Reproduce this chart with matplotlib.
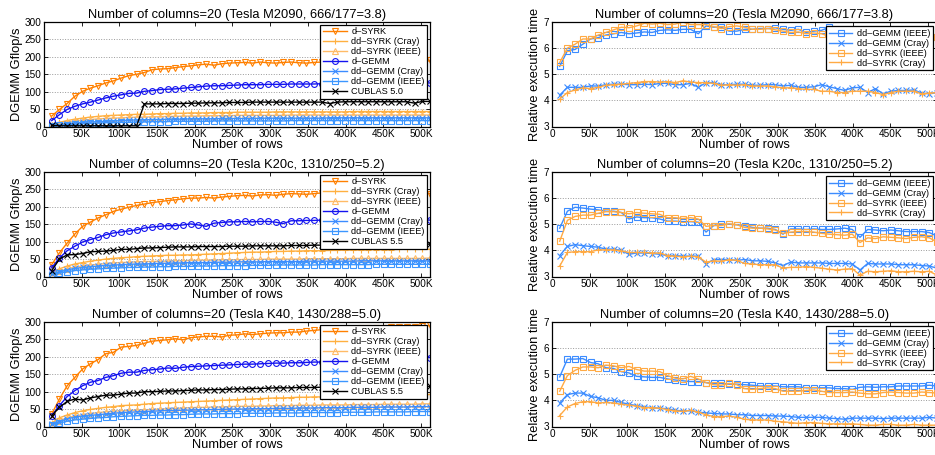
import matplotlib
matplotlib.use('Agg')
import matplotlib.pyplot as plt

plt.rcParams['font.family'] = ['Liberation Sans', 'DejaVu Sans']

# numero de filas (10K ... 512K)
rows = [10240 * k for k in range(1, 51)]
xticks = [0, 50000, 100000, 150000, 200000, 250000, 300000, 350000, 400000, 450000, 500000]
xticklabels = ['0', '50K', '100K', '150K', '200K', '250K', '300K', '350K', '400K', '450K', '500K']

titles = ['Number of columns=20 (Tesla M2090, 666/177=3.8)',
          'Number of columns=20 (Tesla K20c, 1310/250=5.2)',
          'Number of columns=20 (Tesla K40, 1430/288=5.0)']
cublas_names = ['CUBLAS 5.0', 'CUBLAS 5.5', 'CUBLAS 5.5']

# ---- Gflop/s, Tesla M2090
d_syrk_m = [30,49,66,87,101,110,117,125,131,139,146,150,155,163,165,166,169,172,174,177,
            179,176,180,182,183,184,182,185,183,182,184,185,183,182,184,185,183,181,184,183,
            185,184,183,185,184,183,185,184,182,190]
dd_syrk_cray_m = [5,12,17,21,24,27,29,31,32,33,34,35,35,36,37,37,38,38,39,39,
                  39,40,40,40,41,41,41,41,41,42,42,42,42,42,42,42,42,42,42,43,
                  43,43,43,43,43,43,43,43,43,43]
dd_syrk_ieee_m = [3,8,12,15,18,20,22,23,24,25,26,27,27,28,28,29,29,30,30,30,
                  31,31,31,31,32,32,32,32,32,32,32,33,33,33,33,33,33,33,33,33,
                  33,33,33,33,33,33,33,33,33,33]
d_gemm_m = [17,34,49,58,65,70,76,82,87,91,95,96,101,103,106,107,108,110,112,114,
            116,117,117,118,119,120,120,120,121,121,121,122,122,122,122,123,122,123,124,124,
            124,125,124,125,125,125,124,125,125,125]
dd_gemm_cray_m = [2,5,8,10,12,13,14,15,16,17,18,19,19,20,20,21,21,21,22,22,
                  22,22,23,23,23,23,23,24,24,24,24,24,24,24,24,24,25,25,25,25,
                  25,25,25,25,25,25,25,25,25,25]
dd_gemm_ieee_m = [1,3,5,7,8,9,10,11,11,12,12,13,13,14,14,14,15,15,15,15,
                  15,16,16,16,16,16,16,16,16,16,16,17,17,17,17,17,17,17,17,17,
                  17,17,17,17,17,17,17,17,17,17]
cublas_m = [3,2,2,2,2,2,2,2,2,2,2,2,65,65,65,66,66,66,67,67,
            68,68,68,69,69,69,70,70,70,70,70,70,70,70,70,70,66,70,71,71,
            71,71,71,71,71,71,71,67,72,72]

# ---- Gflop/s, Tesla K20c
d_syrk_k20 = [34,68,96,122,144,156,168,177,187,193,199,204,208,212,215,218,220,223,225,225,
              227,225,228,230,232,233,231,234,235,233,236,238,237,236,238,240,238,237,239,238,
              239,240,238,239,240,239,238,239,240,238]
dd_syrk_cray_k20 = [10,22,30,36,40,44,47,50,52,54,55,57,58,59,60,61,61,62,62,63,
                    64,65,66,67,68,69,70,70,71,72,72,73,73,74,74,74,75,75,76,76,
                    76,77,77,77,77,78,78,78,78,78]
dd_syrk_ieee_k20 = [7,15,22,27,30,33,35,37,39,40,41,42,43,43,44,44,45,45,46,47,
                    47,47,48,48,48,49,49,49,50,50,50,50,50,51,51,51,51,51,51,52,
                    52,52,52,52,52,52,52,52,52,53]
d_gemm_k20 = [25,53,74,87,99,106,112,120,125,128,131,134,139,142,144,146,146,148,151,148,
              144,153,155,157,157,158,157,158,158,156,152,160,160,161,161,162,161,162,162,161,
              162,162,163,162,163,162,163,162,162,162]
dd_gemm_cray_k20 = [6,13,19,23,26,28,30,32,33,34,35,36,36,37,38,38,39,39,40,40,
                    40,41,41,41,42,42,42,42,43,43,43,43,43,44,44,44,44,44,44,44,
                    45,45,45,45,45,45,45,45,45,45]
dd_gemm_ieee_k20 = [5,10,14,17,19,21,22,23,24,25,26,26,27,27,28,28,29,29,29,30,
                    30,30,31,31,31,31,32,32,32,33,33,33,33,33,33,34,34,34,34,34,
                    34,34,35,35,35,35,35,35,35,35]
cublas_k20 = [17,50,62,63,66,71,72,73,75,78,78,80,82,82,83,84,85,85,85,86,
              86,86,86,87,87,87,88,88,88,88,88,89,89,89,90,90,90,90,90,90,
              91,91,91,91,91,92,92,92,92,93]

# ---- Gflop/s, Tesla K40
d_syrk_k40 = [36,79,117,141,165,180,192,209,213,228,230,233,239,245,247,249,252,249,255,257,
              259,259,257,262,263,266,264,266,268,269,269,271,271,274,276,278,278,279,280,281,
              282,283,283,284,285,286,286,287,288,290]
dd_syrk_cray_k40 = [10,25,33,40,45,49,52,55,57,60,61,62,64,66,67,68,69,70,71,72,
                    73,74,75,76,77,78,79,80,81,82,82,83,84,84,85,85,86,86,87,88,
                    88,88,89,89,90,90,91,91,91,92]
dd_syrk_ieee_k40 = [8,17,25,30,34,37,40,42,44,45,46,47,48,49,50,51,52,53,54,55,
                    55,56,56,57,58,58,58,59,59,60,60,60,61,61,61,62,62,62,62,63,
                    63,63,63,64,64,64,64,64,65,65]
d_gemm_k40 = [31,60,86,103,117,127,132,141,146,153,156,156,161,163,165,168,167,170,172,173,
              174,175,176,177,178,179,179,180,181,182,182,183,183,184,185,185,186,187,188,189,
              190,191,192,193,194,195,196,197,197,198]
dd_gemm_cray_k40 = [6,14,22,27,30,32,34,36,38,40,41,42,43,44,45,46,46,47,47,48,
                    48,49,49,50,50,50,51,51,51,52,52,52,53,53,53,54,54,54,54,55,
                    55,55,55,56,56,56,56,57,57,57]
dd_gemm_ieee_k40 = [5,10,15,19,21,23,25,26,28,29,30,31,32,32,33,33,34,34,35,36,
                    36,36,37,37,37,38,38,38,38,39,39,39,39,40,40,40,40,40,41,41,
                    41,41,42,42,42,42,42,43,43,43]
cublas_k40 = [31,55,72,79,76,82,86,90,90,93,96,96,100,100,101,102,102,103,104,105,
              105,106,106,107,108,108,109,109,110,111,111,111,112,112,112,113,113,113,113,113,
              114,114,114,114,114,115,115,115,115,115]

# ---- tiempo relativo, Tesla M2090
rel_gemm_ieee_m = [5.3,5.9,5.95,6.15,6.35,6.4,6.5,6.55,6.6,6.55,6.58,6.62,6.6,6.68,6.7,6.68,6.72,6.72,6.55,6.85,
                   6.8,6.8,6.65,6.65,6.72,6.72,6.75,6.75,6.78,6.72,6.68,6.72,6.6,6.65,6.68,6.8,6.65,6.6,6.62,6.58,
                   6.6,6.55,6.58,6.52,6.55,6.5,6.5,6.48,6.45,6.42]
rel_gemm_cray_m = [4.2,4.5,4.5,4.5,4.55,4.55,4.6,4.62,4.62,4.6,4.6,4.62,4.6,4.65,4.65,4.6,4.6,4.65,4.5,4.68,
                   4.68,4.6,4.6,4.62,4.62,4.58,4.58,4.6,4.6,4.55,4.58,4.5,4.5,4.52,4.6,4.52,4.45,4.38,4.48,4.5,
                   4.3,4.45,4.25,4.35,4.38,4.38,4.4,4.28,4.25,4.3]
rel_syrk_ieee_m = [5.45,6.0,6.15,6.35,6.35,6.5,6.6,6.7,6.8,6.78,6.85,6.95,6.92,6.95,6.9,6.92,7.0,6.9,6.9,6.9,
                   6.82,6.75,6.82,6.85,6.8,6.72,6.72,6.75,6.7,6.65,6.6,6.62,6.55,6.58,6.55,6.45,6.45,6.48,6.45,6.5,
                   6.45,6.42,6.45,6.4,6.45,6.42,6.4,6.45,6.42,6.42]
rel_syrk_cray_m = [4.05,4.3,4.4,4.48,4.45,4.5,4.58,4.6,4.62,4.65,4.68,4.72,4.72,4.7,4.72,4.68,4.75,4.7,4.68,4.68,
                   4.65,4.58,4.6,4.58,4.6,4.55,4.55,4.55,4.52,4.48,4.48,4.45,4.42,4.42,4.35,4.35,4.3,4.3,4.35,4.35,
                   4.35,4.3,4.22,4.3,4.35,4.35,4.35,4.25,4.28,4.3]

# ---- tiempo relativo, Tesla K20c
rel_gemm_ieee_k20 = [4.85,5.5,5.65,5.62,5.58,5.55,5.5,5.5,5.45,5.2,5.28,5.25,5.25,5.2,5.12,5.12,5.1,5.1,5.08,4.7,
                     4.95,5.0,5.0,4.98,4.95,4.88,4.85,4.85,4.8,4.62,4.82,4.82,4.8,4.82,4.8,4.8,4.82,4.85,4.8,4.5,
                     4.8,4.78,4.75,4.78,4.75,4.72,4.72,4.72,4.68,4.55]
rel_gemm_cray_k20 = [3.8,4.15,4.22,4.18,4.15,4.12,4.05,4.05,4.0,3.85,3.9,3.9,3.88,3.85,3.8,3.8,3.78,3.78,3.78,3.48,
                     3.65,3.65,3.65,3.62,3.65,3.6,3.6,3.58,3.52,3.42,3.55,3.52,3.52,3.52,3.52,3.5,3.5,3.5,3.48,3.25,
                     3.5,3.48,3.48,3.48,3.45,3.45,3.45,3.42,3.4,3.32]
rel_syrk_ieee_k20 = [4.35,5.15,5.3,5.35,5.35,5.42,5.48,5.48,5.45,5.4,5.45,5.42,5.4,5.38,5.25,5.25,5.22,5.25,5.2,4.92,
                     4.95,4.95,5.02,4.98,4.88,4.85,4.85,4.82,4.78,4.65,4.7,4.72,4.72,4.7,4.65,4.62,4.6,4.58,4.62,4.3,
                     4.48,4.45,4.52,4.5,4.48,4.45,4.5,4.52,4.48,4.32]
rel_syrk_cray_k20 = [3.4,3.92,3.95,3.95,3.95,4.02,4.02,4.02,3.98,3.92,3.92,3.92,3.9,3.9,3.8,3.78,3.75,3.78,3.75,3.55,
                     3.6,3.58,3.65,3.62,3.5,3.48,3.45,3.45,3.45,3.32,3.35,3.35,3.38,3.35,3.32,3.28,3.25,3.28,3.3,3.05,
                     3.2,3.18,3.2,3.22,3.18,3.18,3.2,3.18,3.2,3.05]

# ---- tiempo relativo, Tesla K40
rel_gemm_ieee_k40 = [4.9,5.58,5.58,5.6,5.45,5.4,5.25,5.22,5.1,5.05,4.92,4.9,4.88,4.88,4.82,4.78,4.75,4.72,4.72,4.68,
                     4.65,4.65,4.62,4.62,4.6,4.58,4.55,4.55,4.55,4.52,4.52,4.52,4.48,4.48,4.48,4.48,4.45,4.45,4.42,4.5,
                     4.52,4.5,4.52,4.52,4.55,4.55,4.55,4.55,4.58,4.55]
rel_gemm_cray_k40 = [3.9,4.22,4.28,4.28,4.15,4.1,4.0,4.0,3.92,3.85,3.8,3.75,3.72,3.7,3.68,3.62,3.6,3.6,3.55,3.52,
                     3.5,3.48,3.48,3.45,3.45,3.42,3.42,3.42,3.4,3.4,3.38,3.35,3.35,3.35,3.35,3.32,3.3,3.28,3.32,3.32,
                     3.32,3.32,3.3,3.32,3.32,3.32,3.32,3.32,3.35,3.32]
rel_syrk_ieee_k40 = [4.35,4.95,5.15,5.28,5.28,5.25,5.35,5.32,5.25,5.3,5.18,5.12,5.12,5.1,4.95,4.85,4.82,4.92,4.82,4.68,
                     4.6,4.58,4.65,4.6,4.45,4.42,4.45,4.48,4.45,4.35,4.35,4.35,4.38,4.4,4.35,4.3,4.3,4.3,4.32,4.28,
                     4.25,4.25,4.3,4.32,4.3,4.28,4.28,4.32,4.3,4.28]
rel_syrk_cray_k40 = [3.42,3.75,3.88,3.95,3.95,3.9,3.92,3.9,3.85,3.82,3.78,3.72,3.72,3.7,3.65,3.6,3.58,3.62,3.55,3.45,
                     3.38,3.38,3.4,3.35,3.28,3.25,3.25,3.25,3.2,3.18,3.15,3.12,3.15,3.15,3.12,3.1,3.1,3.1,3.1,3.08,
                     3.05,3.05,3.08,3.08,3.05,3.05,3.08,3.05,3.05,3.05]

gflops = [
    [d_syrk_m, dd_syrk_cray_m, dd_syrk_ieee_m, d_gemm_m, dd_gemm_cray_m, dd_gemm_ieee_m, cublas_m],
    [d_syrk_k20, dd_syrk_cray_k20, dd_syrk_ieee_k20, d_gemm_k20, dd_gemm_cray_k20, dd_gemm_ieee_k20, cublas_k20],
    [d_syrk_k40, dd_syrk_cray_k40, dd_syrk_ieee_k40, d_gemm_k40, dd_gemm_cray_k40, dd_gemm_ieee_k40, cublas_k40],
]
relative = [
    [rel_gemm_ieee_m, rel_gemm_cray_m, rel_syrk_ieee_m, rel_syrk_cray_m],
    [rel_gemm_ieee_k20, rel_gemm_cray_k20, rel_syrk_ieee_k20, rel_syrk_cray_k20],
    [rel_gemm_ieee_k40, rel_gemm_cray_k40, rel_syrk_ieee_k40, rel_syrk_cray_k40],
]

# estilos: (color, marcador)
left_styles = [('#FF8000', 'v'), ('#FFB040', '+'), ('#FFBB66', '^'), ('#1414F0', 'o'),
               ('#3C8CFF', 'x'), ('#3C96FF', 's'), ('black', 'x')]
right_labels = ['dd\u2013GEMM (IEEE)', 'dd\u2013GEMM (Cray)', 'dd\u2013SYRK (IEEE)', 'dd\u2013SYRK (Cray)']
right_styles = [('#3C8CFF', 's'), ('#3C8CFF', 'x'), ('#FFAA44', 's'), ('#FFAA44', '+')]

W, H = 935, 455
fig = plt.figure(figsize=(W / 100, H / 100), dpi=100)


def setup(ax, ylim, yticks):
    ax.set_xlim(0, 512000)
    ax.set_ylim(*ylim)
    ax.set_xticks(xticks)
    ax.set_xticklabels(xticklabels)
    ax.set_yticks(yticks)
    ax.tick_params(direction='in', length=3, width=0.6, labelsize=7.2, pad=2,
                   top=True, right=True)
    ax.yaxis.grid(True, linestyle=':', color='#999999', linewidth=0.7)
    ax.set_axisbelow(True)
    for s in ax.spines.values():
        s.set_linewidth(0.9)
    ax.set_xlabel('Number of rows', fontsize=9.3, labelpad=0)


tops = [22, 172, 322]
for i in range(3):
    # izquierda: Gflop/s
    ax = fig.add_axes([44 / W, 1 - (tops[i] + 104.5) / H, 386 / W, 104.5 / H])
    labels = ['d\u2013SYRK', 'dd\u2013SYRK (Cray)', 'dd\u2013SYRK (IEEE)', 'd\u2013GEMM',
              'dd\u2013GEMM (Cray)', 'dd\u2013GEMM (IEEE)', cublas_names[i]]
    for vals, (col, mk), lab in zip(gflops[i], left_styles, labels):
        ax.plot(rows, vals, color=col, marker=mk, ms=4.2, mew=0.8, mfc='none',
                lw=1.0, label=lab)
    setup(ax, (0, 300), [0, 50, 100, 150, 200, 250, 300])
    ax.set_ylabel('DGEMM Gflop/s', fontsize=9.3, labelpad=1)
    ax.set_title(titles[i], fontsize=9.3, pad=3)
    leg = ax.legend(loc='upper right', fontsize=6.6, frameon=True, fancybox=False,
                    framealpha=1, edgecolor='black', borderaxespad=0.3,
                    labelspacing=0.1, handlelength=2.6, handletextpad=0.5,
                    borderpad=0.3)
    leg.get_frame().set_linewidth(0.9)

    # derecha: tiempo relativo
    ax = fig.add_axes([552 / W, 1 - (tops[i] + 104.5) / H, 385 / W, 104.5 / H])
    for vals, (col, mk), lab in zip(relative[i], right_styles, right_labels):
        ax.plot(rows, vals, color=col, marker=mk, ms=4.2, mew=0.8, mfc='none',
                lw=1.0, label=lab)
    setup(ax, (3, 7), [3, 4, 5, 6, 7])
    ax.set_ylabel('Relative execution time', fontsize=9.3, labelpad=2)
    ax.set_title(titles[i], fontsize=9.3, pad=3)
    leg = ax.legend(loc='upper right', bbox_to_anchor=(0.99, 0.96), fontsize=6.6,
                    frameon=True, fancybox=False, framealpha=1, edgecolor='black',
                    borderaxespad=0.0, labelspacing=0.1, handlelength=2.6,
                    handletextpad=0.5, borderpad=0.3)
    leg.get_frame().set_linewidth(0.9)

fig.savefig('out.png', dpi=100)
